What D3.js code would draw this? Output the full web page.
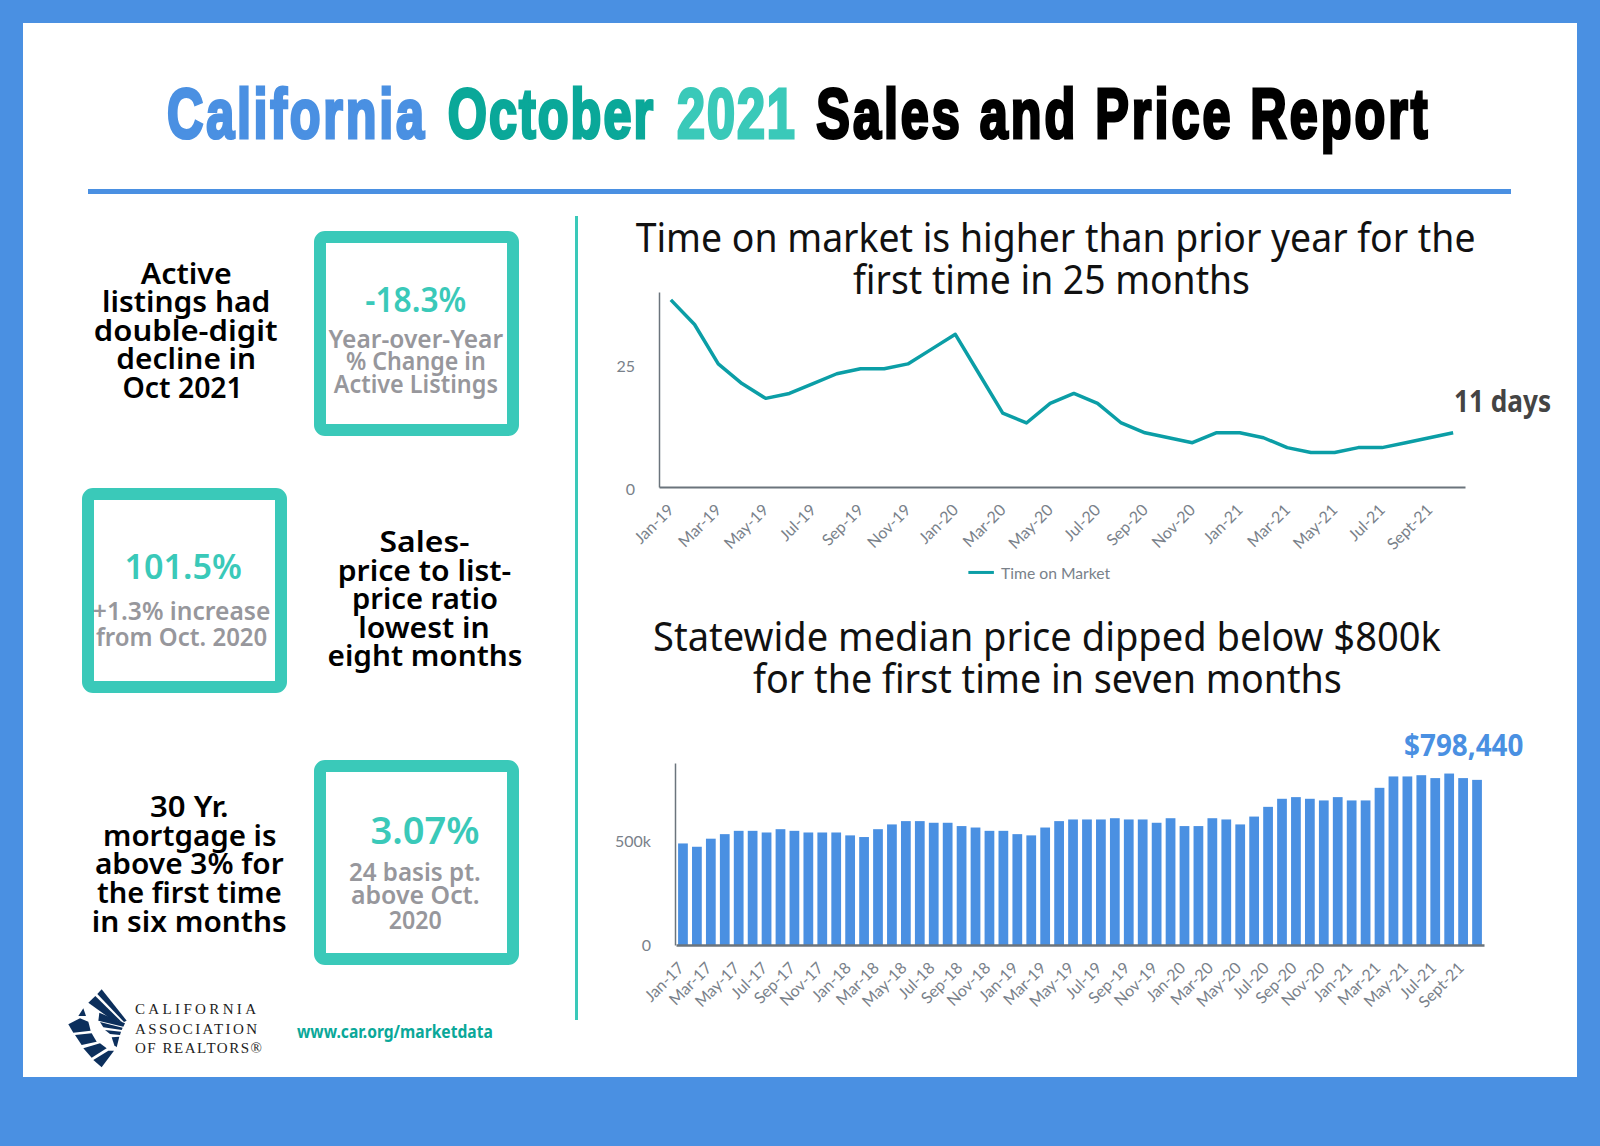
<!DOCTYPE html>
<html><head><meta charset="utf-8">
<script src="https://cdn.jsdelivr.net/npm/d3@7/dist/d3.min.js"></script>
<style>html,body{margin:0;padding:0;background:#fff}svg{display:block}</style>
</head><body><svg id="c" width="1600" height="1146" viewBox="0 0 1600 1146"></svg>
<script>
const timeMonths=["Jan-19","Feb-19","Mar-19","Apr-19","May-19","Jun-19","Jul-19","Aug-19","Sep-19","Oct-19","Nov-19","Dec-19","Jan-20","Feb-20","Mar-20","Apr-20","May-20","Jun-20","Jul-20","Aug-20","Sep-20","Oct-20","Nov-20","Dec-20","Jan-21","Feb-21","Mar-21","Apr-21","May-21","Jun-21","Jul-21","Aug-21","Sept-21","Oct-21"];
const timeOnMarket=[38,33,25,21,18,19,21,23,24,24,25,28,31,23,15,13,17,19,17,13,11,10,9,11,11,10,8,7,7,8,8,9,10,11];
const timeTicks=["Jan-19","Mar-19","May-19","Jul-19","Sep-19","Nov-19","Jan-20","Mar-20","May-20","Jul-20","Sep-20","Nov-20","Jan-21","Mar-21","May-21","Jul-21","Sept-21"];
const priceMonths=["Jan-17","Feb-17","Mar-17","Apr-17","May-17","Jun-17","Jul-17","Aug-17","Sep-17","Oct-17","Nov-17","Dec-17","Jan-18","Feb-18","Mar-18","Apr-18","May-18","Jun-18","Jul-18","Aug-18","Sep-18","Oct-18","Nov-18","Dec-18","Jan-19","Feb-19","Mar-19","Apr-19","May-19","Jun-19","Jul-19","Aug-19","Sep-19","Oct-19","Nov-19","Dec-19","Jan-20","Feb-20","Mar-20","Apr-20","May-20","Jun-20","Jul-20","Aug-20","Sep-20","Oct-20","Nov-20","Dec-20","Jan-21","Feb-21","Mar-21","Apr-21","May-21","Jun-21","Jul-21","Aug-21","Sept-21","Oct-21"];
const medianPrice=[491,475,514,536,552,552,544,560,552,544,544,544,530,522,560,583,599,599,591,591,575,568,552,552,536,530,568,599,607,607,607,613,607,607,591,613,575,575,613,607,583,621,668,707,715,707,699,715,699,699,760,815,815,821,807,829,807,798.44];
const priceTicks=["Jan-17","Mar-17","May-17","Jul-17","Sep-17","Nov-17","Jan-18","Mar-18","May-18","Jul-18","Sep-18","Nov-18","Jan-19","Mar-19","May-19","Jul-19","Sep-19","Nov-19","Jan-20","Mar-20","May-20","Jul-20","Sep-20","Nov-20","Jan-21","Mar-21","May-21","Jul-21","Sept-21"];

const BLUE="#4a90e2",TEAL="#3ac9b9",DTEAL="#0aa899",LINE="#0b9ea6",GRAY="#97979c",AXIS="#6b747c";
const svg=d3.select("#c");
const k=1600/1568;
const SANS="'Noto Sans',sans-serif", LATO="Lato,sans-serif";

svg.append("rect").attr("width",1600).attr("height",1146).attr("fill",BLUE);
svg.append("rect").attr("x",23).attr("y",23).attr("width",1554).attr("height",1054).attr("fill","#fff");

function T(s,x0,x1,y,size,weight,fill,fam){
  return svg.append("text").text(s).attr("x",x0*k).attr("y",y*k)
    .attr("textLength",(x1-x0)*k).attr("lengthAdjust","spacingAndGlyphs")
    .attr("font-family",fam||SANS).attr("font-size",size).attr("font-weight",weight).attr("fill",fill);
}
// condensed heavy title: narrow the glyphs, then open the tracking
const sx=0.72;
[["California",163.7,415.5,BLUE],["October",438.7,640,DTEAL],["2021",663.5,779,TEAL],["Sales and Price Report",800,1399,"#000"]]
 .forEach(d=>svg.append("text").text(d[0])
   .attr("transform",`translate(${d[1]*k},${135.5*k}) scale(${sx},1)`)
   .attr("textLength",(d[2]-d[1])*k/sx).attr("lengthAdjust","spacing")
   .attr("font-family","'Liberation Sans',sans-serif").attr("font-size",70).attr("font-weight",700)
   .attr("fill",d[3]).attr("stroke",d[3]).attr("stroke-width",3.2));
svg.append("rect").attr("x",88).attr("y",189).attr("width",1423).attr("height",5).attr("fill",BLUE);
svg.append("rect").attr("x",575).attr("y",216).attr("width",3).attr("height",804).attr("fill",TEAL);

[[320,237],[88,494],[320,766]].forEach(b=>svg.append("rect").attr("x",b[0]).attr("y",b[1]).attr("width",193).attr("height",193).attr("rx",5)
  .attr("fill","#fff").attr("stroke",TEAL).attr("stroke-width",12));

const BK="#000";
[["Active",138,227,278],["listings had",100,265,306],["double-digit",92,272,334],["decline in",114,251,362],["Oct 2021",120,238,390],
 ["Sales-",372,460,541],["price to list-",331,501,569],["price ratio",345,488,597],["lowest in",351,480,625],["eight months",321,512,653],
 ["30 Yr.",147,224,801],["mortgage is",101,271,829],["above 3% for",93,278,857],["the first time",95,276,885],["in six months",90,281,913]]
 .forEach(d=>T(d[0],d[1],d[2],d[3],29,600,BK));
[["-18.3%",358,457,306,34],["101.5%",122,237,567,34],["3.07%",363,470,827,38]].forEach(d=>T(d[0],d[1],d[2],d[3],d[4],600,TEAL));
[["Year-over-Year",322,493,341],["% Change in",339,476,363],["Active Listings",327,488,385],["+1.3% increase",91,265,608],["from Oct. 2020",94,262,633],
 ["24 basis pt.",342,471,863],["above Oct.",344,470,886],["2020",381,433,910]].forEach(d=>T(d[0],d[1],d[2],d[3],25,600,GRAY));

[["Time on market is higher than prior year for the",623,1446,247],["first time in 25 months",836,1225,288],
 ["Statewide median price dipped below $800k",640,1412,638],["for the first time in seven months",738,1315,679]]
 .forEach(d=>T(d[0],d[1],d[2],d[3],40,400,"#111"));

function styleAxis(g){
  g.selectAll("text").attr("font-family",LATO).attr("font-size",16).attr("fill","#79818a");
  g.selectAll(".domain").attr("stroke",AXIS);
}
const x1=d3.scaleBand().domain(timeMonths).range([659,1465]);
const y1=d3.scaleLinear().domain([0,39.6]).range([487,292]);
const gx1=svg.append("g").attr("transform","translate(0,487)").call(d3.axisBottom(x1).tickValues(timeTicks).tickSize(0));
gx1.call(styleAxis); gx1.select(".domain").attr("stroke-width",2);
gx1.selectAll("text").attr("text-anchor","end").attr("x",0).attr("y",0).attr("dy",0).attr("transform","translate(4,24) rotate(-45)");
const gy1=svg.append("g").attr("transform","translate(659,0)").call(d3.axisLeft(y1).tickValues([0,25]).tickSize(0).tickPadding(24));
gy1.call(styleAxis); gy1.select(".domain").attr("stroke-width",1.5);
gy1.selectAll("text").attr("y",2);
svg.append("path").datum(timeOnMarket).attr("fill","none").attr("stroke",LINE).attr("stroke-width",3.5).attr("stroke-linejoin","round")
 .attr("d",d3.line().x((d,i)=>x1(timeMonths[i])+x1.bandwidth()/2).y(d=>y1(d)));
T("11 days",1425,1520,404,31,700,"#444");
svg.append("rect").attr("x",949*k).attr("y",561*k-1.5).attr("width",25*k).attr("height",3).attr("fill",LINE);
T("Time on Market",981,1088,567,16,400,"#79818a",LATO);

const x2=d3.scaleBand().domain(priceMonths).range([676,1484]).paddingInner(0.3).paddingOuter(0.15);
const y2=d3.scaleLinear().domain([0,880]).range([945,763]);
svg.append("g").selectAll("rect").data(medianPrice).join("rect")
 .attr("x",(d,i)=>x2(priceMonths[i])).attr("width",x2.bandwidth()).attr("y",d=>y2(d)).attr("height",d=>y2(0)-y2(d)).attr("fill",BLUE);
const gx2=svg.append("g").attr("transform","translate(0,945)").call(d3.axisBottom(x2).tickValues(priceTicks).tickSize(0));
gx2.call(styleAxis); gx2.select(".domain").attr("stroke-width",2.5);
gx2.selectAll("text").attr("text-anchor","end").attr("x",0).attr("y",0).attr("dy",0).attr("transform","translate(2,24) rotate(-45)");
const gy2=svg.append("g").attr("transform","translate(675,0)").call(d3.axisLeft(y2).tickValues([0,500]).tickFormat(d=>d?d+"k":"0").tickSize(0).tickPadding(24));
gy2.call(styleAxis); gy2.select(".domain").attr("stroke-width",1.5);
T("$798,440",1376,1493,741,31,700,BLUE);

T("www.car.org/marketdata",291,483,1017,18,700,DTEAL);
const logo=svg.append("g").attr("transform","translate(60,980) scale(0.3333)").attr("fill","#0c2f5c");
["125,28 200,122 192,126 112,42","106,48 186,127 150,115 85,68","118,98 195,130 190,140 115,122","120,126 188,143 185,150 130,142","135,150 183,155 180,165 150,162","155,172 178,170 170,202 163,196",
 "60,115 85,125 92,152 40,158 25,133","70,85 78,108 55,108","45,165 95,160 110,185 65,195","70,205 120,190 140,205 95,233","100,240 145,212 162,212 125,262"]
 .forEach(p=>logo.append("polygon").attr("points",p));
[["CALIFORNIA",135,256,1014],["ASSOCIATION",135,257,1034],["OF REALTORS®",135,262,1053]].forEach(d=>
 svg.append("text").text(d[0]).attr("x",d[1]).attr("y",d[3]).attr("textLength",d[2]-d[1]).attr("lengthAdjust","spacing")
  .attr("font-family","'Liberation Serif',serif").attr("font-size",15).attr("fill","#222"));
</script></body></html>
